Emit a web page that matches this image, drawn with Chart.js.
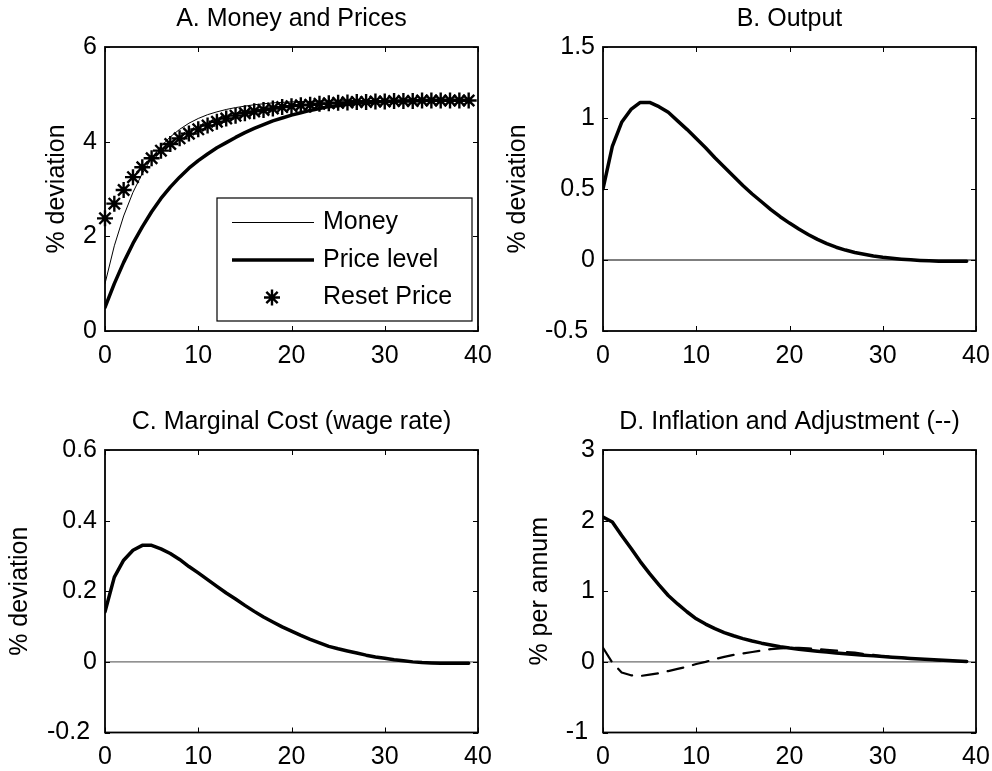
<!DOCTYPE html>
<html lang="en">
<head>
<meta charset="UTF-8">
<title>Money shock impulse responses</title>
<script src="https://cdn.jsdelivr.net/npm/chart.js"></script>
<style>
    body {
        margin: 0;
        background: #fff;
    }
    #fig {
        position: relative;
        width: 992px;
        height: 771px;
    }
    canvas {
        position: absolute;
    }
</style>
</head>
<body>
<div id="fig">
    <canvas id="chartA" width="496" height="385" style="left:0;top:0;width:496px;height:385px"></canvas>
    <canvas id="chartB" width="496" height="385" style="left:496px;top:0;width:496px;height:385px"></canvas>
    <canvas id="chartC" width="496" height="386" style="left:0;top:385px;width:496px;height:386px"></canvas>
    <canvas id="chartD" width="496" height="386" style="left:496px;top:385px;width:496px;height:386px"></canvas>
</div>

<script>
// quarters after the shock
const quarters = [0, 1, 2, 3, 4, 5, 6, 7, 8, 9, 10, 11, 12, 13, 14, 15, 16, 17, 18, 19,
                  20, 21, 22, 23, 24, 25, 26, 27, 28, 29, 30, 31, 32, 33, 34, 35, 36, 37, 38, 39];

// A. money and prices (% deviation)
const money = [1.00, 1.80, 2.43, 2.93, 3.33, 3.65, 3.90, 4.10, 4.26, 4.39, 4.49, 4.57, 4.63, 4.68, 4.72, 4.75, 4.78, 4.80, 4.82, 4.83,
               4.84, 4.85, 4.85, 4.86, 4.86, 4.86, 4.87, 4.87, 4.87, 4.87, 4.87, 4.87, 4.87, 4.87, 4.87, 4.87, 4.87, 4.87, 4.87, 4.87];
const priceLevel = [0.50, 1.00, 1.45, 1.85, 2.20, 2.52, 2.80, 3.04, 3.25, 3.44, 3.60, 3.74, 3.87, 3.98, 4.09, 4.19, 4.28, 4.36, 4.44, 4.50,
                    4.56, 4.61, 4.66, 4.70, 4.74, 4.76, 4.79, 4.81, 4.82, 4.84, 4.85, 4.855, 4.86, 4.865, 4.87, 4.875, 4.875, 4.875, 4.875, 4.875];
const resetPrice = [2.38, 2.69, 2.98, 3.25, 3.46, 3.65, 3.81, 3.95, 4.07, 4.17, 4.26, 4.34, 4.42, 4.49, 4.55, 4.60, 4.64, 4.67, 4.70, 4.73,
                    4.75, 4.77, 4.78, 4.80, 4.81, 4.82, 4.83, 4.84, 4.84, 4.85, 4.85, 4.86, 4.86, 4.86, 4.87, 4.87, 4.87, 4.87, 4.87, 4.87];

// B. output (% deviation)
const output = [0.50, 0.80, 0.97, 1.06, 1.11, 1.11, 1.08, 1.04, 0.98, 0.92, 0.855, 0.79, 0.72, 0.655, 0.59, 0.525, 0.465, 0.41, 0.355, 0.305,
                0.26, 0.218, 0.18, 0.145, 0.115, 0.09, 0.07, 0.053, 0.04, 0.028, 0.019, 0.012, 0.006, 0.001, -0.003, -0.006, -0.008, -0.009, -0.009, -0.009];

// C. marginal cost (% deviation)
const marginalCost = [0.142, 0.24, 0.288, 0.316, 0.33, 0.33, 0.32, 0.307, 0.29, 0.27, 0.252, 0.233, 0.214, 0.195, 0.178, 0.16, 0.143, 0.127, 0.113, 0.099,
                      0.087, 0.075, 0.064, 0.054, 0.044, 0.037, 0.031, 0.025, 0.019, 0.014, 0.01, 0.006, 0.003, 0.0, -0.002, -0.003, -0.004, -0.004, -0.004, -0.004];

// D. inflation and adjustment (% per annum)
const inflation = [2.05, 1.98, 1.79, 1.61, 1.42, 1.25, 1.09, 0.94, 0.82, 0.71, 0.61, 0.535, 0.47, 0.415, 0.37, 0.33, 0.295, 0.265, 0.24, 0.215,
                   0.195, 0.178, 0.163, 0.15, 0.138, 0.127, 0.116, 0.105, 0.095, 0.085, 0.075, 0.066, 0.057, 0.049, 0.041, 0.034, 0.027, 0.02, 0.013, 0.007];
const adjustment = [0.20, -0.01, -0.15, -0.19, -0.20, -0.18, -0.16, -0.13, -0.10, -0.07, -0.03, 0.0, 0.04, 0.07, 0.10, 0.12, 0.14, 0.16, 0.18, 0.19,
                    0.20, 0.20, 0.19, 0.18, 0.17, 0.16, 0.14, 0.13, 0.11, 0.10, 0.08, 0.07, 0.06, 0.05, 0.04, 0.03, 0.02, 0.015, 0.01, 0.005];

// axis ticks
const xTicks = [0, 10, 20, 30, 40];
const yTicksA = [0, 2, 4, 6];
const yTicksB = [-0.5, 0, 0.5, 1, 1.5];
const yTicksC = [-0.2, 0, 0.2, 0.4, 0.6];
const yTicksD = [-1, 0, 1, 2, 3];

Chart.defaults.font.family = '"Liberation Sans", Arial, Helvetica, sans-serif';
Chart.defaults.font.size = 25;
Chart.defaults.color = '#000';

const pts = arr => quarters.map((q, i) => ({ x: q, y: arr[i] }));
const zeroLine = (color, width) => ({
    label: 'zero', data: [{ x: xTicks[0], y: 0 }, { x: xTicks[xTicks.length - 1], y: 0 }],
    borderColor: color, borderWidth: width, pointRadius: 0
});
// negative tick labels sit a little further left in the original
const yLabel = v => v < 0 ? String(v) + ' ' : String(v);

// box around plot + inward tick marks on all four sides, and panel title
const matlabAxes = {
    id: 'matlabAxes',
    afterDraw(chart, args, opts) {
        const { ctx, chartArea: a, scales: { x, y } } = chart;
        ctx.save();
        ctx.strokeStyle = '#000';
        ctx.lineWidth = 1;
        ctx.beginPath();
        x.ticks.forEach(t => {
            const px = Math.round(x.getPixelForValue(t.value)) + 0.5;
            ctx.moveTo(px, a.bottom); ctx.lineTo(px, a.bottom - 5);
            ctx.moveTo(px, a.top); ctx.lineTo(px, a.top + 5);
        });
        y.ticks.forEach(t => {
            const py = Math.round(y.getPixelForValue(t.value)) + 0.5;
            ctx.moveTo(a.left, py); ctx.lineTo(a.left + 5, py);
            ctx.moveTo(a.right, py); ctx.lineTo(a.right - 5, py);
        });
        ctx.stroke();
        ctx.lineWidth = 1.8;
        ctx.strokeRect(a.left, a.top, a.width, a.height);

        ctx.fillStyle = '#000';
        ctx.font = '25px "Liberation Sans", Arial, sans-serif';
        ctx.textAlign = 'center';
        ctx.textBaseline = 'alphabetic';
        ctx.fillText(opts.text, (a.left + a.right) / 2, a.top - 21);
        ctx.restore();
    }
};

// legend box drawn inside panel A
const insideLegend = {
    id: 'insideLegend',
    afterDraw(chart, args, opts) {
        if (!opts.items) return;
        const { ctx, chartArea: a } = chart;
        const w = 255, h = 123;
        const x0 = a.right - 6 - w, y0 = a.bottom - 10 - h;
        ctx.save();
        ctx.fillStyle = '#fff';
        ctx.fillRect(x0, y0, w, h);
        ctx.strokeStyle = '#000';
        ctx.lineWidth = 1.2;
        ctx.strokeRect(x0, y0, w, h);
        ctx.font = '25px "Liberation Sans", Arial, sans-serif';
        ctx.textBaseline = 'middle';
        ctx.textAlign = 'left';
        opts.items.forEach((idx, i) => {
            const ds = chart.data.datasets[idx];
            const cy = y0 + 24.5 + i * 37.5;
            ctx.strokeStyle = '#000';
            if (ds.showLine === false) {
                ctx.lineWidth = ds.pointBorderWidth;
                Chart.helpers.drawPoint(ctx, { pointStyle: ds.pointStyle, radius: ds.pointRadius, rotation: 0, borderWidth: ds.pointBorderWidth }, x0 + 55, cy);
            } else {
                ctx.lineWidth = ds.borderWidth;
                ctx.beginPath();
                ctx.moveTo(x0 + 15, cy);
                ctx.lineTo(x0 + 97, cy);
                ctx.stroke();
            }
            ctx.fillStyle = '#000';
            ctx.fillText(ds.label, x0 + 106, cy);
        });
        ctx.restore();
    }
};

function makeScales(yTicks, yTitle, yWidth, xHeight, titlePad) {
    return {
        x: {
            type: 'linear',
            min: xTicks[0],
            max: xTicks[xTicks.length - 1],
            afterBuildTicks: s => { s.ticks = xTicks.map(v => ({ value: v })); },
            afterFit: s => { s.height = xHeight; s.paddingLeft = 0; s.paddingRight = 0; },
            grid: { display: false, drawTicks: false },
            border: { display: false },
            ticks: { padding: 10, autoSkip: false, maxRotation: 0, callback: v => String(v) }
        },
        y: {
            type: 'linear',
            min: yTicks[0],
            max: yTicks[yTicks.length - 1],
            afterBuildTicks: s => { s.ticks = yTicks.map(v => ({ value: v })); },
            afterFit: s => { s.width = yWidth; s.paddingTop = 0; s.paddingBottom = 0; },
            grid: { display: false, drawTicks: false },
            border: { display: false },
            ticks: { padding: 8, autoSkip: false, callback: yLabel },
            title: { display: true, text: yTitle, padding: { top: titlePad, bottom: 0 } }
        }
    };
}

function makeChart(id, datasets, title, scales, padding, legendItems) {
    new Chart(document.getElementById(id), {
        type: 'line',
        data: { datasets: datasets },
        options: {
            responsive: false,
            animation: false,
            devicePixelRatio: 1,
            layout: { padding: padding },
            scales: scales,
            elements: { line: { tension: 0, borderJoinStyle: 'round', borderCapStyle: 'round' } },
            plugins: {
                legend: { display: false },
                tooltip: { enabled: false },
                matlabAxes: { text: title },
                insideLegend: { items: legendItems }
            }
        },
        plugins: [matlabAxes, insideLegend]
    });
}

// Panel A: Money and Prices
makeChart('chartA', [
    { label: 'Reset Price', data: pts(resetPrice), showLine: false, pointStyle: 'star', pointRadius: 8,
      pointBorderWidth: 2.4, pointBorderColor: '#000', pointBackgroundColor: '#000', clip: false },
    { label: 'Price level', data: pts(priceLevel), borderColor: '#000', borderWidth: 3.5, pointRadius: 0 },
    { label: 'Money', data: pts(money), borderColor: '#000', borderWidth: 1, pointRadius: 0 }
], 'A. Money and Prices', makeScales(yTicksA, '% deviation', 105, 54, 42),
   { left: 0, top: 47, right: 18, bottom: 0 }, [2, 1, 0]);

// Panel B: Output
makeChart('chartB', [
    { label: 'Output', data: pts(output), borderColor: '#000', borderWidth: 3.5, pointRadius: 0 },
    zeroLine('#000', 1.2)
], 'B. Output', makeScales(yTicksB, '% deviation', 107, 54, 7),
   { left: 0, top: 47, right: 16, bottom: 0 }, null);

// Panel C: Marginal Cost
makeChart('chartC', [
    { label: 'Marginal cost', data: pts(marginalCost), borderColor: '#000', borderWidth: 3.5, pointRadius: 0 },
    zeroLine('#6e6e6e', 1.2)
], 'C. Marginal Cost (wage rate)', makeScales(yTicksC, '% deviation', 105, 38.5, 5),
   { left: 0, top: 65, right: 18, bottom: 0 }, null);

// Panel D: Inflation and Adjustment
makeChart('chartD', [
    { label: 'Inflation', data: pts(inflation), borderColor: '#000', borderWidth: 3.5, pointRadius: 0 },
    { label: 'Adjustment', data: pts(adjustment), borderColor: '#000', borderWidth: 2.2, borderDash: [16, 10], pointRadius: 0 },
    zeroLine('#6e6e6e', 1.2)
], 'D. Inflation and Adjustment (--)', makeScales(yTicksD, '% per annum', 107, 38.5, 29),
   { left: 0, top: 65, right: 16, bottom: 0 }, null);
</script>
</body>
</html>
